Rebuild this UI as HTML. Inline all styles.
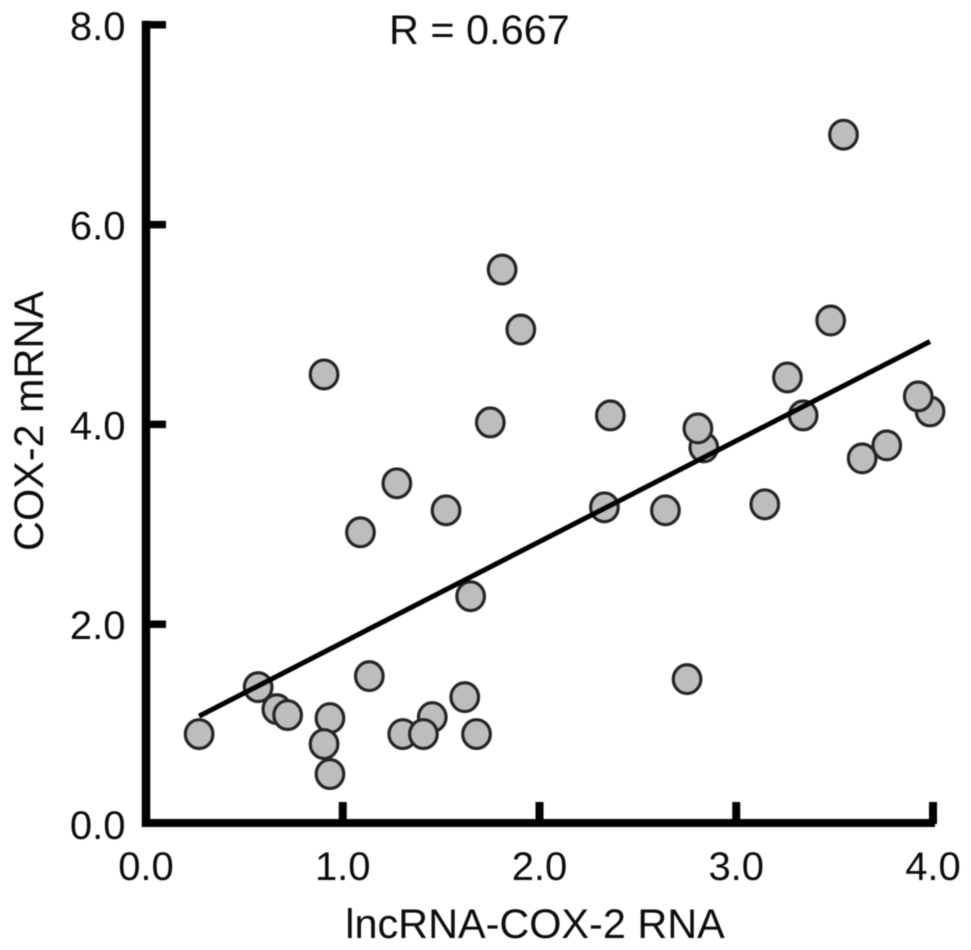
<!DOCTYPE html>
<html>
<head>
<meta charset="utf-8">
<title>COX-2 mRNA vs lncRNA-COX-2 RNA</title>
<style>
html,body{margin:0;padding:0;background:#fff;width:971px;height:950px;overflow:hidden}
svg{display:block;filter:blur(.6px)}
text{font-family:"Liberation Sans",sans-serif;font-size:40px;fill:#0d0d0d;text-rendering:geometricPrecision}
.big{font-size:41.4px}
</style>
</head>
<body>
<svg id="chart" width="971" height="950" viewBox="0 0 971 950" xmlns="http://www.w3.org/2000/svg">
<g id="points"></g>
<g id="fit"></g>
<g id="axes"></g>
<text class="big" x="389" y="44">R = 0.667</text>
<text class="big" x="535" y="938" text-anchor="middle">lncRNA-COX-2 RNA</text>
<text class="big" transform="translate(43,421) rotate(-90)" text-anchor="middle">COX-2 mRNA</text>
</svg>
<script>
const xTicks = [0, 1, 2, 3, 4];
const yTicks = [0, 2, 4, 6, 8];
const xValues = [0.27,0.57,0.665,0.72,0.905,0.935,0.935,0.905,1.09,1.135,1.275,1.305,1.455,1.41,1.525,1.62,1.65,1.68,1.75,1.81,1.905,2.33,2.36,2.64,2.75,2.835,2.805,3.145,3.26,3.34,3.48,3.545,3.765,3.64,3.985,3.925];
const yValues = [0.90,1.37,1.15,1.09,4.50,1.06,0.50,0.80,2.92,1.48,3.41,0.90,1.07,0.90,3.14,1.27,2.28,0.90,4.02,5.55,4.95,3.17,4.09,3.14,1.45,3.77,3.96,3.20,4.47,4.09,5.04,6.90,3.79,3.66,4.13,4.28];
const fitX = [0.27, 3.985];
const fitY = [1.08, 4.83];

const NS = 'http://www.w3.org/2000/svg';
const sx = v => 146 + v * 196.75;
const sy = v => 824 - v * 99.9;
function mk(parent, tag, props) {
  const el = document.createElementNS(NS, tag);
  for (const k in props) el.setAttribute(k, props[k]);
  parent.appendChild(el);
  return el;
}
const pointsG = document.getElementById('points');
xValues.forEach((x, i) => {
  const c = mk(pointsG, 'ellipse', {cx: sx(x), cy: sy(yValues[i]), rx: 13.8, ry: 14.4, fill: '#bdbdbd', stroke: '#262626', 'stroke-width': 3.2});
  
  
});
const fitG = document.getElementById('fit');
const fitLine = mk(fitG, 'line', {x1: sx(fitX[0]), y1: sy(fitY[0]), x2: sx(fitX[1]), y2: sy(fitY[1]), stroke: '#000', 'stroke-width': 5});



const axesG = document.getElementById('axes');
const yAxis = mk(axesG, 'line', {x1: sx(0), y1: sy(8) - 4, x2: sx(0), y2: sy(0) + 3, stroke: '#000', 'stroke-width': 8.5});


const xAxis = mk(axesG, 'line', {x1: sx(0) - 4, y1: sy(0) - 1, x2: sx(4) + 2, y2: sy(0) - 1, stroke: '#000', 'stroke-width': 8});



xTicks.forEach(v => {
  if (v > 0) {
    const t = mk(axesG, 'line', {x1: sx(v), y1: sy(0), x2: sx(v), y2: sy(0) - 22, stroke: '#000', 'stroke-width': 8});
    
    
  }
  const l = mk(axesG, 'text', {x: sx(v), y: 880, 'text-anchor': 'middle'});
  l.textContent = v.toFixed(1);
  
  
});
yTicks.forEach(v => {
  if (v > 0) {
    const t = mk(axesG, 'line', {x1: sx(0), y1: sy(v), x2: sx(0) + 20, y2: sy(v), stroke: '#000', 'stroke-width': 7.5});
    
    
  }
  const l = mk(axesG, 'text', {x: 125.5, y: sy(v) + 15, 'text-anchor': 'end'});
  l.textContent = v.toFixed(1);
  
  
});
</script>
</body>
</html>
